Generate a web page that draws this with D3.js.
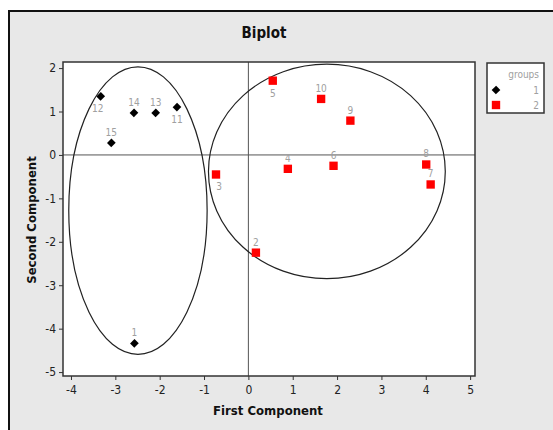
<!DOCTYPE html>
<html>
<head>
<meta charset="utf-8">
<script src="https://cdn.jsdelivr.net/npm/d3@7"></script>
<style>
  body { margin: 0; background: #fff; }
  text { font-family: "Liberation Sans Narrow", "DejaVu Sans Condensed", "Liberation Sans", sans-serif; }
</style>
</head>
<body>
<svg width="553" height="430"></svg>
<script>
// observation ids, scores and group membership
var ids = [1, 2, 3, 4, 5, 6, 7, 8, 9, 10, 11, 12, 13, 14, 15];
var firstComp = [-2.57, 0.17, -0.73, 0.89, 0.55, 1.92, 4.11, 4.01, 2.30, 1.64, -1.61, -3.33, -2.09, -2.58, -3.09];
var secondComp = [-4.34, -2.25, -0.45, -0.32, 1.71, -0.25, -0.68, -0.22, 0.79, 1.29, 1.10, 1.35, 0.97, 0.97, 0.28];
var groups = [1, 2, 2, 2, 2, 2, 2, 2, 2, 2, 1, 1, 1, 1, 1];
var labelBelow = [false, false, true, false, true, false, false, false, false, false, true, true, false, false, false];

var xTicks = [-4, -3, -2, -1, 0, 1, 2, 3, 4, 5];
var yTicks = [-5, -4, -3, -2, -1, 0, 1, 2];

// cluster ellipses: centre and semi-axes in data units
var ellipses = [
  {cx: -2.49, cy: -1.28, rx: 1.56, ry: 3.31},
  {cx: 1.77, cy: -0.38, rx: 2.67, ry: 2.47}
];

var svg = d3.select('svg');

// grey frame
svg.append('rect')
    .attr('x', 9).attr('y', 11)
    .attr('width', 560).attr('height', 440)
    .attr('fill', '#e8e8e8')
    .attr('stroke', '#111')
    .attr('stroke-width', 2);

var plot = {l: 63, t: 62, r: 475, b: 376};

var xScale = d3.scaleLinear().domain([-4.18, 5.11]).range([plot.l, plot.r]);
var yScale = d3.scaleLinear().domain([-5.09, 2.14]).range([plot.b, plot.t]);

svg.append('rect')
    .attr('x', plot.l).attr('y', plot.t)
    .attr('width', plot.r - plot.l).attr('height', plot.b - plot.t)
    .attr('fill', '#fff');

var plotG = svg.append('g');

// clip for ellipses
svg.append('clipPath').attr('id', 'plot-clip')
  .append('rect')
    .attr('x', plot.l).attr('y', plot.t)
    .attr('width', plot.r - plot.l).attr('height', plot.b - plot.t);

// reference lines at zero
plotG.append('line')
    .attr('x1', xScale(0)).attr('x2', xScale(0))
    .attr('y1', plot.t).attr('y2', plot.b)
    .attr('stroke', '#555').attr('stroke-width', 1);
plotG.append('line')
    .attr('x1', plot.l).attr('x2', plot.r)
    .attr('y1', yScale(0)).attr('y2', yScale(0))
    .attr('stroke', '#555').attr('stroke-width', 1);

plotG.selectAll('.ell')
    .data(ellipses)
  .enter().append('ellipse')
    .attr('class', 'ell')
    .attr('clip-path', 'url(#plot-clip)')
    .attr('cx', function(d) { return xScale(d.cx); })
    .attr('cy', function(d) { return yScale(d.cy); })
    .attr('rx', function(d) { return xScale(d.cx + d.rx) - xScale(d.cx); })
    .attr('ry', function(d) { return yScale(d.cy) - yScale(d.cy + d.ry); })
    .attr('fill', 'none')
    .attr('stroke', '#222')
    .attr('stroke-width', 1.2);

svg.append('rect')
    .attr('x', plot.l).attr('y', plot.t)
    .attr('width', plot.r - plot.l).attr('height', plot.b - plot.t)
    .attr('fill', 'none')
    .attr('stroke', '#333')
    .attr('stroke-width', 1.5);

// axes
var xAxis = d3.axisBottom(xScale).tickValues(xTicks).tickSize(4).tickFormat(function(d) { return d; });
var yAxis = d3.axisLeft(yScale).tickValues(yTicks).tickSize(4).tickFormat(function(d) { return d; });

var xAxisG = svg.append('g')
    .attr('transform', 'translate(0,' + plot.b + ')')
    .call(xAxis);
var yAxisG = svg.append('g')
    .attr('transform', 'translate(' + plot.l + ',0)')
    .call(yAxis);

[xAxisG, yAxisG].forEach(function(g) {
  g.select('.domain').remove();
  g.selectAll('line').attr('stroke', '#333');
  g.selectAll('text')
      .attr('fill', '#222')
      .style('font-size', '12px')
      .style('font-family', '"DejaVu Sans Condensed", sans-serif');
});
xAxisG.selectAll('text').attr('dy', '0.9em');

// points
var data = ids.map(function(id, i) {
  return {id: id, x: firstComp[i], y: secondComp[i], group: groups[i], below: labelBelow[i]};
});

// square turned 45 degrees gives the squat diamond marker
var diamond = d3.symbol().type(d3.symbolSquare).size(36);
var square = d3.symbol().type(d3.symbolSquare).size(70);

function marker(sel) {
  sel.attr('d', function(d) { return d === 1 || d.group === 1 ? diamond() : square(); })
     .attr('transform', function(d) { return (d === 1 || d.group === 1) ? 'rotate(45) scale(1,1.05)' : null; })
     .attr('fill', function(d) { return (d === 1 || d.group === 1) ? '#000' : '#ff0000'; });
}

var pts = plotG.selectAll('.pt')
    .data(data)
  .enter().append('g')
    .attr('class', 'pt')
    .attr('transform', function(d) { return 'translate(' + [xScale(d.x), yScale(d.y)] + ')'; });

pts.append('path').call(marker);

pts.append('text')
    .attr('text-anchor', 'middle')
    .attr('x', function(d) { return d.id === 3 ? 3 : (d.id === 12 ? -3 : 0); })
    .attr('y', function(d) { return d.below ? 16 : -7; })
    .attr('fill', '#a0a0a0')
    .style('font-size', '10px')
    .text(function(d) { return d.id; });

// titles
svg.append('text')
    .attr('x', 264).attr('y', 38)
    .attr('text-anchor', 'middle')
    .style('font-size', '15px')
    .style('font-weight', 'bold')
    .style('font-family', '"DejaVu Sans Condensed", sans-serif')
    .attr('fill', '#111')
    .text('Biplot');

svg.append('text')
    .attr('x', 268).attr('y', 415)
    .attr('text-anchor', 'middle')
    .style('font-size', '13px')
    .style('font-weight', 'bold')
    .style('font-family', '"DejaVu Sans Condensed", sans-serif')
    .attr('fill', '#111')
    .text('First Component');

svg.append('text')
    .attr('transform', 'translate(36,220) rotate(-90)')
    .attr('text-anchor', 'middle')
    .style('font-size', '13px')
    .style('font-weight', 'bold')
    .style('font-family', '"DejaVu Sans Condensed", sans-serif')
    .attr('fill', '#111')
    .text('Second Component');

// legend
var legend = svg.append('g');
legend.append('rect')
    .attr('x', 487).attr('y', 63)
    .attr('width', 57).attr('height', 50)
    .attr('fill', '#fff')
    .attr('stroke', '#333')
    .attr('stroke-width', 1.5);
legend.append('text')
    .attr('x', 539).attr('y', 78)
    .attr('text-anchor', 'end')
    .attr('fill', '#a0a0a0')
    .style('font-size', '10px')
    .text('groups');

var legendItems = [1, 2];
var lg = legend.selectAll('.li')
    .data(legendItems)
  .enter().append('g')
    .attr('transform', function(d, i) { return 'translate(0,' + (90 + i * 15) + ')'; });
lg.append('g')
    .attr('transform', 'translate(496,0)')
  .append('path')
    .call(marker);
lg.append('text')
    .attr('x', 539).attr('y', 4)
    .attr('text-anchor', 'end')
    .attr('fill', '#a0a0a0')
    .style('font-size', '10px')
    .text(function(d) { return d; });
</script>
</body>
</html>
